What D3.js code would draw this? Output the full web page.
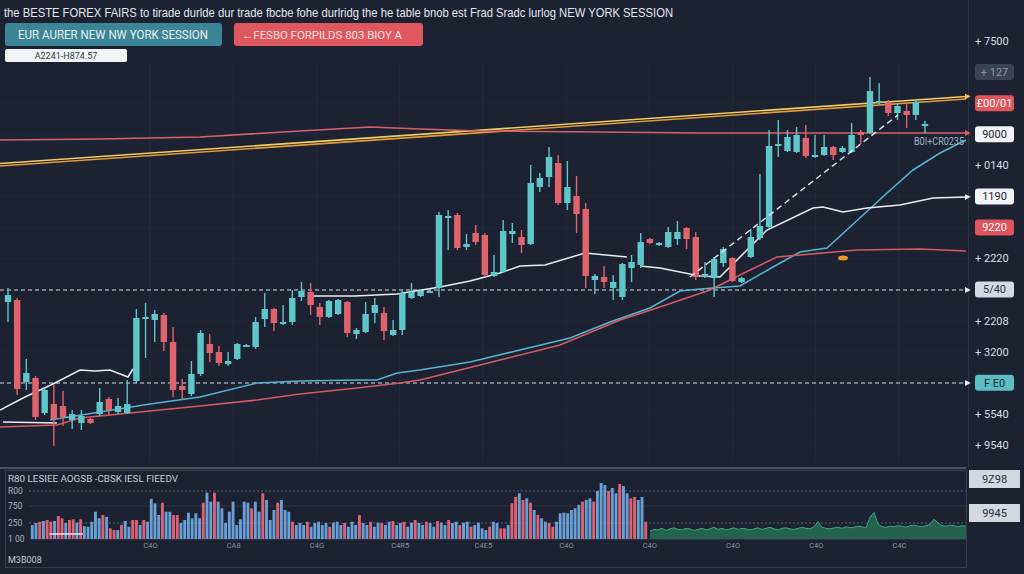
<!DOCTYPE html>
<html>
<head>
<meta charset="utf-8">
<script src="https://cdn.jsdelivr.net/npm/d3@7"></script>
<style>
  body { margin: 0; background: #1c2231; }
  svg { display: block; font-family: Roboto, "Liberation Sans", sans-serif; }
</style>
</head>
<body>
<div id="chart"></div>
<script>
// ---- data ----
const candleOpen = [178,180,98,102,67,76,74,60,57,61,66,81,68,67,99,161,160,165,138,94,86,106,136,128,116,121,134,133,161,171,156,158,183,188,173,163,166,178,146,148,167,167,145,150,182,184,188,192,263,265,233,247,245,204,208,246,243,236,293,303,317,277,284,271,200,203,192,183,212,215,241,235,233,241,252,243,203,202,217,222,198,223,242,253,334,329,328,342,323,325,333,328,328,348,347,377,377,367,369,365,355];
const candleClose = [185,91,107,63,90,61,63,66,64,57,78,70,74,76,162,163,166,138,90,90,106,147,127,117,119,136,135,158,171,157,158,182,189,175,163,179,180,147,150,166,175,149,150,187,188,189,189,265,264,232,236,238,205,208,249,249,235,297,302,323,277,293,266,204,204,198,198,216,218,238,237,237,248,248,241,203,206,221,231,199,202,243,254,334,336,343,345,324,325,333,325,332,345,345,389,379,367,374,365,378,356];
const candleHigh = [192,182,121,104,92,96,89,70,70,62,92,83,82,100,171,177,170,167,153,101,119,150,146,134,128,137,136,163,187,172,175,190,198,197,177,180,181,179,152,178,182,173,160,189,197,191,190,268,270,267,246,255,247,225,260,257,250,315,307,333,325,319,304,277,206,214,205,217,225,247,242,238,253,259,253,248,218,223,233,223,203,251,306,350,360,350,353,355,345,345,334,334,357,350,403,397,380,377,377,380,359];
const candleLow = [158,85,90,60,65,34,54,51,50,56,64,65,66,66,97,122,138,129,83,80,84,104,118,114,114,120,133,131,153,149,155,155,179,165,155,162,165,143,141,147,157,140,144,145,181,183,187,183,230,230,230,235,203,203,207,237,227,235,288,293,275,270,247,192,186,192,180,180,198,212,236,234,232,235,231,200,202,183,213,198,197,222,240,252,323,328,327,322,322,324,320,327,327,336,346,376,364,360,352,360,347];

// moving averages as [candle index, price]
const whiteMaA = [[-0.55,58],[5.34,57]];
const whiteMaB = [[-0.87,70],[1.85,83],[4.91,96],[7.85,110],[9.49,109],[11.12,110],[13.09,103],[13.63,111]];
const whiteMaC = [[33.26,184],[37.84,184],[42.42,186],[47.11,193],[50.38,199],[53.65,207],[55.83,214],[58.56,215],[62.92,227],[67.5,223]];
const whiteMaD = [[68.92,214],[71.1,212],[73.28,208],[75.46,204],[77.64,203],[82.77,250],[87.79,272],[88.88,273],[91.06,268],[93.68,272],[97.27,275],[100.87,282],[104.47,283]];
const tealMa = [[4.58,60],[10.03,68],[15.49,76],[20.94,83],[27.15,97],[31.84,99],[38.06,100],[40.24,100],[42.42,107],[44.93,110],[50.38,118],[55.83,130],[61.29,142],[65.65,158],[70.01,172],[73.28,189],[75.46,191],[79.83,194],[83.42,213],[86.37,228],[89.31,232],[91.82,253],[95.86,287],[98.69,310],[101.64,327],[104.47,340]];
const redMa = [[-0.87,53],[5.34,55],[7.85,62],[14.39,68],[20.94,74],[27.15,80],[31.84,86],[38.06,92],[42.75,97],[44.93,100],[53.65,120],[60.2,135],[66.74,160],[70.77,172],[76.55,190],[80.92,210],[83.86,223],[92.58,230],[99.45,231],[104.47,229]];
const redLevel = [[-0.87,340],[10.03,341],[20.94,343],[31.84,349],[39.48,353],[44.93,351],[51.47,349],[64.56,348],[75.46,347],[104.47,347]];
const goldTrend = [[-0.87,314],[104.47,381]];
const dashTrend = [[74.37,203],[97.05,365]];
const dashLevels = [190, 97];

const rightLabels = ["+ 7500","+ 127","£00/01","9000","+ 0140","1190","9220","+ 2220","5/40","+ 2208","+ 3200","F E0","+ 5540","+ 9540"];
const rightKinds = ["plain","gray","red","white","plain","white","red","plain","light","plain","plain","teal","plain","plain"];

const volValues = [231,250,288,309,338,288,309,456,388,250, 338,359,260,359,220,215,288,582,388,485,
  430,200,184,184,231,309,215,338,338,231, 338,288,870,795,485,805,582,582,485,485,
  250,338,553,388,535,388,805,972,822,972, 822,682,250,582,822,231,359,822,805,682,
  822,582,962,850,338,632,805,850,632,582, 288,231,250,231,288,215,250,288,231,250,
  215,260,288,231,250,215,288,231,485,250, 231,288,215,260,250,231,288,309,231,250,
  288,215,260,338,250,231,288,250,215,309, 260,231,338,250,288,231,260,288,215,231,
  260,200,184,215,288,250,200,200,231,795, 900,962,850,878,805,632,485,388,288,250,
  215,288,535,553,535,632,682,770,822,850, 878,822,1000,1133,1100,1000,1050,962,1117,1083,
  962,878,900,850,900,288];
const volSide = "bbrbrrbrrb" + "rrbrbbbbbr" + "brrbrbbrrb" + "rbbbbrbbrr" + "bbbbbbrbbr" +
  "bbbbbbbbbr" + "bbrbbbrbbb" + "rbbbrbbbbb" + "rbbbrbbbrb" + "brbbrbbrbb" +
  "rbbrbbrbbr" + "bbrbbrbbrb" + "bbbrbbrrbr" + "rbrbrbrbbr" + "rbbbbbbbrb" +
  "brbbbrbbrb" + "brrbbr";
const greenVol = [175,190,185,200,180,195,205,190,185,200,195,180,190,
  200,185,195,210,190,200,185,195,205,190,200,195,185,
  195,205,190,200,210,195,185,200,205,195,190,200,210,
  200,195,215,290,210,200,195,
  205,210,200,215,205,210,220,215,205,420,560,240,215,
  210,220,215,225,220,210,225,230,220,215,225,235,360,250,225,220,230,225,215,225,220];
const volTicks = [100, 250, 750, 1000];
const volTickText = ["1 00", "250", "750", "R00"];
const timeLabels = ["C4O","CA8","C4G","C4R5","C4E5","C4O","C4O","C4O","C4O","C4C"];

// ---- drawing ----
const W = 1024, H = 574;
const svg = d3.select("#chart").append("svg").attr("width", W).attr("height", H);
svg.append("rect").attr("width", W).attr("height", H).attr("fill", "#1c2231");

const x = d3.scaleLinear().domain([0, 100]).range([8, 925]);
const y = d3.scaleLinear().domain([20, 420]).range([460, 60]);
const line = d3.line().x(d => x(d[0])).y(d => y(d[1]));

const defs = svg.append("defs");
defs.append("clipPath").attr("id", "plot").append("rect").attr("x", 0).attr("y", 62).attr("width", 973).attr("height", 402);
function arrow(id, color) {
  defs.append("marker").attr("id", id).attr("viewBox", "0 0 10 10").attr("refX", 2).attr("refY", 5)
    .attr("markerWidth", 6).attr("markerHeight", 6).attr("markerUnits", "userSpaceOnUse").attr("orient", "auto")
    .append("path").attr("d", "M0,0L10,5L0,10z").attr("fill", color);
}
arrow("aWhite", "#e6eaf0");
arrow("aRed", "#d9606a");
arrow("aGold", "#f0c050");

// faint grid
const grid = svg.append("g").attr("stroke", "#273044").attr("stroke-width", 1);
const timeX = d3.scaleLinear().domain([0, timeLabels.length - 1]).range([150, 899]);
grid.selectAll("line.v").data(d3.range(timeLabels.length)).enter().append("line")
  .attr("x1", d => timeX(d)).attr("x2", d => timeX(d)).attr("y1", 62).attr("y2", 462).attr("opacity", 0.6);
const labelY = d3.scalePoint().domain(d3.range(rightLabels.length)).range([41, 445]);
grid.selectAll("line.h").data(d3.range(2, rightLabels.length)).enter().append("line")
  .attr("x1", 0).attr("x2", 968).attr("y1", d => labelY(d)).attr("y2", d => labelY(d)).attr("opacity", 0.35);

// right separator
svg.append("line").attr("x1", 968.5).attr("x2", 968.5).attr("y1", 0).attr("y2", 468).attr("stroke", "#2d3548");

const plot = svg.append("g").attr("clip-path", "url(#plot)");

// gold trend (double line)
plot.append("path").datum(goldTrend).attr("d", line).attr("fill", "none").attr("stroke", "#e29a38").attr("stroke-width", 1.6);
plot.append("path").datum(goldTrend).attr("d", line).attr("transform", "translate(0,-2.5)")
  .attr("fill", "none").attr("stroke", "#f2cc62").attr("stroke-width", 1.6).attr("marker-end", "url(#aGold)");

plot.append("path").datum(redLevel).attr("d", line).attr("fill", "none").attr("stroke", "#d9606a").attr("stroke-width", 1.6).attr("marker-end", "url(#aRed)");

plot.selectAll("line.lvl").data(dashLevels).enter().append("line")
  .attr("x1", 0).attr("x2", 966).attr("y1", d => y(d)).attr("y2", d => y(d))
  .attr("stroke", "#d6dbe4").attr("stroke-width", 1.1).attr("stroke-dasharray", "4,3").attr("marker-end", "url(#aWhite)");

plot.append("path").datum(tealMa).attr("d", line).attr("fill", "none").attr("stroke", "#56b3cf").attr("stroke-width", 1.6);
plot.append("path").datum(redMa).attr("d", line).attr("fill", "none").attr("stroke", "#d65a64").attr("stroke-width", 1.6);
[whiteMaA, whiteMaB, whiteMaC].forEach(seg => {
  plot.append("path").datum(seg).attr("d", line).attr("fill", "none").attr("stroke", "#e8ecf2").attr("stroke-width", 1.5);
});
plot.append("path").datum(whiteMaD).attr("d", line).attr("fill", "none").attr("stroke", "#e8ecf2").attr("stroke-width", 1.5).attr("marker-end", "url(#aWhite)");

// candles
const candles = d3.range(candleOpen.length).map(i => ({
  i, o: candleOpen[i], c: candleClose[i], h: candleHigh[i], l: candleLow[i]
}));
const up = "#5fc6c9", down = "#e0646d";
const cg = plot.append("g");
cg.selectAll("line.wick").data(candles).enter().append("line")
  .attr("x1", d => x(d.i)).attr("x2", d => x(d.i))
  .attr("y1", d => y(d.h)).attr("y2", d => y(d.l))
  .attr("stroke", d => d.c >= d.o ? up : down).attr("stroke-width", 1.4);
cg.selectAll("rect").data(candles).enter().append("rect")
  .attr("x", d => x(d.i) - 3.2)
  .attr("y", d => y(Math.max(d.o, d.c)))
  .attr("width", 6.4)
  .attr("height", d => Math.max(2, Math.abs(y(d.o) - y(d.c))))
  .attr("fill", d => d.c >= d.o ? up : down);

plot.append("path").datum(dashTrend).attr("d", line).attr("fill", "none")
  .attr("stroke", "#e4e8ee").attr("stroke-width", 1.4).attr("stroke-dasharray", "6,4");

plot.append("ellipse").attr("cx", 843).attr("cy", 258).attr("rx", 5).attr("ry", 2.5).attr("fill", "#e8982f");
svg.append("text").attr("x", 914).attr("y", 145).attr("font-size", 10).attr("fill", "#9fb6c8")
  .attr("textLength", 50).attr("lengthAdjust", "spacingAndGlyphs").text("B0I+CR0235");

// right price labels
const boxStyle = {
  gray: ["#3a4253", "#8d96a6"], red: ["#e0555d", "#ffffff"], white: ["#f1f3f6", "#1f2430"],
  light: ["#d3dae6", "#2a3040"], teal: ["#5bbcc2", "#15303a"]
};
const rl = svg.append("g").attr("font-size", 11);
rightLabels.forEach((t, i) => {
  const k = rightKinds[i], cy = labelY(i);
  if (k === "plain") {
    rl.append("text").attr("x", 975).attr("y", cy).attr("dy", "0.35em").attr("fill", "#d8dde6").text(t);
  } else {
    rl.append("rect").attr("x", 975).attr("y", cy - 8).attr("width", 39).attr("height", 16).attr("rx", 3).attr("fill", boxStyle[k][0]);
    rl.append("text").attr("x", 994.5).attr("y", cy).attr("dy", "0.35em").attr("text-anchor", "middle").attr("fill", boxStyle[k][1]).text(t);
  }
});

// title and badges
svg.append("text").attr("x", 4).attr("y", 17).attr("font-size", 13).attr("fill", "#e3e7ee")
  .attr("font-family", "'Liberation Sans', Arial, sans-serif")
  .attr("textLength", 669).attr("lengthAdjust", "spacingAndGlyphs")
  .text("the BESTE FOREX FAIRS to tirade durlde dur trade fbcbe fohe durlridg the he table bnob est Frad Sradc lurlog NEW YORK SESSION");
svg.append("rect").attr("x", 5).attr("y", 23).attr("width", 217).attr("height", 23).attr("rx", 3).attr("fill", "#3b8597");
svg.append("text").attr("x", 113).attr("y", 35).attr("dy", "0.35em").attr("text-anchor", "middle").attr("font-size", 12)
  .attr("fill", "#e8f0f3").attr("textLength", 190).attr("lengthAdjust", "spacingAndGlyphs").text("EUR AURER NEW NW YORK SESSION");
svg.append("rect").attr("x", 234).attr("y", 23).attr("width", 189).attr("height", 23).attr("rx", 3).attr("fill", "#e0585f");
svg.append("text").attr("x", 322).attr("y", 35).attr("dy", "0.35em").attr("text-anchor", "middle").attr("font-size", 11)
  .attr("fill", "#ffe0e0").attr("textLength", 160).attr("lengthAdjust", "spacingAndGlyphs").text("←FESBO FORPILDS 803 BIOY A");
svg.append("rect").attr("x", 5).attr("y", 49).attr("width", 122).attr("height", 13).attr("rx", 2).attr("fill", "#f3f4f6");
svg.append("text").attr("x", 66).attr("y", 55.5).attr("dy", "0.35em").attr("text-anchor", "middle").attr("font-size", 9)
  .attr("fill", "#333a46").text("A2241-H874.57");

// ---- volume panel ----
svg.append("line").attr("x1", 0).attr("x2", 966).attr("y1", 468).attr("y2", 468).attr("stroke", "#5c6474").attr("stroke-width", 1.5);
svg.append("rect").attr("x", 5.5).attr("y", 470.5).attr("width", 961).attr("height", 97).attr("fill", "none").attr("stroke", "#343c4d");

const vScale = d3.scaleLinear().domain(volTicks).range([539, 523, 506, 491]);
const vx = d3.scaleBand().domain(d3.range(volValues.length)).range([30, 648]).padding(0.22);
const gx = d3.scaleLinear().domain([0, greenVol.length - 1]).range([650, 966]);

const vol = svg.append("g");
vol.selectAll("line.vg").data(volTicks.slice(1)).enter().append("line")
  .attr("x1", 29).attr("x2", 966).attr("y1", d => vScale(d)).attr("y2", d => vScale(d))
  .attr("stroke", d => d === 750 ? "#2c3444" : "#5b6373")
  .attr("stroke-dasharray", d => d === 750 ? null : "2,2");
vol.append("line").attr("x1", 29).attr("x2", 966).attr("y1", vScale(100)).attr("y2", vScale(100)).attr("stroke", "#3a4252");

vol.selectAll("rect.vb").data(volValues).enter().append("rect")
  .attr("x", (d, i) => vx(i)).attr("width", vx.bandwidth())
  .attr("y", d => vScale(d)).attr("height", d => vScale(100) - vScale(d))
  .attr("fill", (d, i) => volSide[i] === "r" ? "#dd6170" : "#6a9fd6");

const area = d3.area().x((d, i) => gx(i)).y0(vScale(100)).y1(d => vScale(d));
vol.append("path").datum(greenVol).attr("d", area).attr("fill", "#25634f");
vol.append("path").datum(greenVol).attr("d", d3.line().x((d, i) => gx(i)).y(d => vScale(d)))
  .attr("fill", "none").attr("stroke", "#3aa77c").attr("stroke-width", 1);

vol.append("line").attr("x1", vx(5)).attr("x2", vx(14)).attr("y1", vScale(147)).attr("y2", vScale(147))
  .attr("stroke", "#dfe6ee").attr("stroke-width", 1.5);

const vAxis = svg.append("g").attr("font-size", 8.5).attr("fill", "#aab2bf");
volTicks.forEach((t, i) => {
  vAxis.append("text").attr("x", 8).attr("y", vScale(t)).attr("dy", "0.35em").text(volTickText[i]);
});
svg.append("g").attr("transform", "translate(0,540)")
  .call(d3.axisBottom(timeX).tickValues(d3.range(timeLabels.length)).tickFormat(i => timeLabels[i]).tickSize(0))
  .call(g => g.select(".domain").remove())
  .call(g => g.selectAll("text").attr("fill", "#8a93a3").attr("font-size", 7.5).attr("font-family", "Roboto, sans-serif"));

svg.append("text").attr("x", 8).attr("y", 482).attr("font-size", 9.5).attr("fill", "#c5cad3")
  .attr("textLength", 170).attr("lengthAdjust", "spacingAndGlyphs").text("R80 LESIEE AOGSB -CBSK IESL FIEEDV");
svg.append("text").attr("x", 8).attr("y", 563).attr("font-size", 9).attr("fill", "#c5cad3").text("M3B008");

[["9Z98", 470], ["9945", 504]].forEach(([t, top]) => {
  svg.append("rect").attr("x", 969).attr("y", top).attr("width", 51).attr("height", 18).attr("fill", "#d3d8e0");
  svg.append("text").attr("x", 994.5).attr("y", top + 9).attr("dy", "0.35em").attr("text-anchor", "middle")
    .attr("font-size", 11).attr("fill", "#2a303c").text(t);
});
</script>
</body>
</html>
